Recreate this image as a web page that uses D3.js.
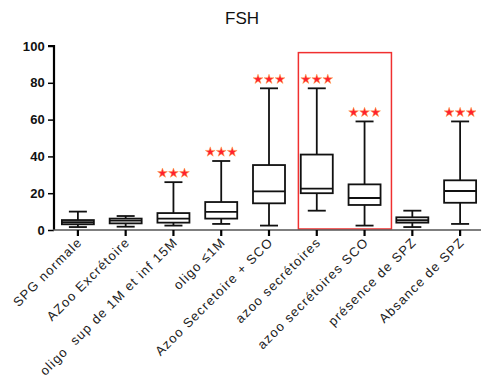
<!DOCTYPE html>
<html><head><meta charset="utf-8">
<script src="https://cdn.jsdelivr.net/npm/d3@7"></script>
<style>body{margin:0;background:#fff}svg{display:block;font-family:"Liberation Sans",Arial,sans-serif}</style>
</head><body><div id="c"></div>
<script>
const categories = ["SPG normale","AZoo Excrétoire","oligo  sup de 1M et inf 15M","oligo ≤1M","Azoo Secretoire + SCO","azoo secrétoires","azoo secrétoires SCO","présence de SPZ","Absance de SPZ"];
const whiskerLow = [1.6, 1.8, 2.4, 3.3, 2.4, 10.5, 2.4, 1.6, 3.3];
const q1 =        [3.1, 3.6, 4.0, 6.2, 14.5, 20.0, 13.6, 4.0, 14.8];
const median =    [4.2, 5.1, 6.2, 9.8, 21.0, 22.5, 17.4, 5.3, 21.2];
const q3 =        [5.4, 6.2, 9.2, 15.2, 35.3, 41.0, 24.8, 6.9, 27.0];
const whiskerHigh=[10, 7.6, 26, 37.5, 77, 77, 59, 10.5, 59];
const significance = ["", "", "***", "***", "***", "***", "***", "", "***"];
const yTicks = [0, 20, 40, 60, 80, 100];
const highlighted = ["azoo secrétoires", "azoo secrétoires SCO"];
const highlightTop = 96.4;
const title = "FSH";

const W = 481, H = 383;
const svg = d3.select("#c").append("svg").attr("width", W).attr("height", H);
const x = d3.scaleBand().domain(categories).range([54, 484]);
const y = d3.scaleLinear().domain([0, 100]).range([230, 46]);
const bw = x.bandwidth();
const boxW = 32, capW = 18;

svg.append("text").attr("x", 242).attr("y", 24).attr("text-anchor", "middle")
  .attr("font-size", 17).attr("fill", "#111").text(title);

// highlight rectangle
const hx0 = x(highlighted[0]) + 5.5, hx1 = x(highlighted[1]) + bw + 3;
svg.append("rect").attr("x", hx0).attr("y", y(highlightTop)).attr("width", hx1 - hx0)
  .attr("height", y(0) - y(highlightTop) - 1).attr("fill", "none").attr("stroke", "#f03030").attr("stroke-width", 1.5);

// y axis
const yAxis = svg.append("g").attr("transform", "translate(54,0)")
  .call(d3.axisLeft(y).tickValues(yTicks).tickSize(6).tickPadding(3));
yAxis.select(".domain").attr("stroke", "#000").attr("stroke-width", 2.2).attr("d", `M-6,${y(100)}H0V${y(0)}`);
yAxis.selectAll(".tick line").attr("stroke", "#000").attr("stroke-width", 1.5);
yAxis.selectAll(".tick text").attr("font-size", 13).attr("fill", "#111").attr("font-weight", "bold").style("letter-spacing", "0.2px");

// x axis
const xAxis = svg.append("g").attr("transform", `translate(0,${y(0)})`)
  .call(d3.axisBottom(x).tickSize(6).tickSizeOuter(0).tickFormat(""));
xAxis.select(".domain").attr("stroke", "#555").attr("stroke-width", 1.6).attr("d", "M53,0H481");
xAxis.selectAll(".tick line").attr("stroke", "#000").attr("stroke-width", 2.2);

// x labels
svg.append("g").selectAll("text").data(categories).join("text")
  .attr("transform", d => `translate(${x(d) + bw / 2 + 5},${y(0) + 13}) rotate(-45)`)
  .attr("text-anchor", "end").attr("font-size", 13).attr("fill", "#222")
  .style("white-space", "pre").style("letter-spacing", "1.2px").text(d => d);

// boxes
const g = svg.append("g").attr("stroke", "#111").attr("stroke-width", 1.8).attr("fill", "none");
categories.forEach((c, i) => {
  const cx = x(c) + bw / 2;
  g.append("line").attr("x1", cx).attr("x2", cx).attr("y1", y(whiskerHigh[i])).attr("y2", y(q3[i]));
  g.append("line").attr("x1", cx).attr("x2", cx).attr("y1", y(q1[i])).attr("y2", y(whiskerLow[i]));
  g.append("line").attr("x1", cx - capW / 2).attr("x2", cx + capW / 2).attr("y1", y(whiskerHigh[i])).attr("y2", y(whiskerHigh[i]));
  g.append("line").attr("x1", cx - capW / 2).attr("x2", cx + capW / 2).attr("y1", y(whiskerLow[i])).attr("y2", y(whiskerLow[i]));
  g.append("rect").attr("x", cx - boxW / 2).attr("y", y(q3[i])).attr("width", boxW).attr("height", y(q1[i]) - y(q3[i])).attr("fill", "#fff");
  g.append("line").attr("x1", cx - boxW / 2).attr("x2", cx + boxW / 2).attr("y1", y(median[i])).attr("y2", y(median[i]));
  if (significance[i]) {
    const n = significance[i].length;
    for (let k = 0; k < n; k++) {
      svg.append("path").attr("d", d3.symbol(d3.symbolStar, 30)())
        .attr("transform", `translate(${cx + (k - (n - 1) / 2) * 11},${y(whiskerHigh[i]) - 9})`)
        .attr("fill", "#ff2030").attr("stroke", "#ffa040").attr("stroke-width", 0.5);
    }
  }
});
</script></body></html>
